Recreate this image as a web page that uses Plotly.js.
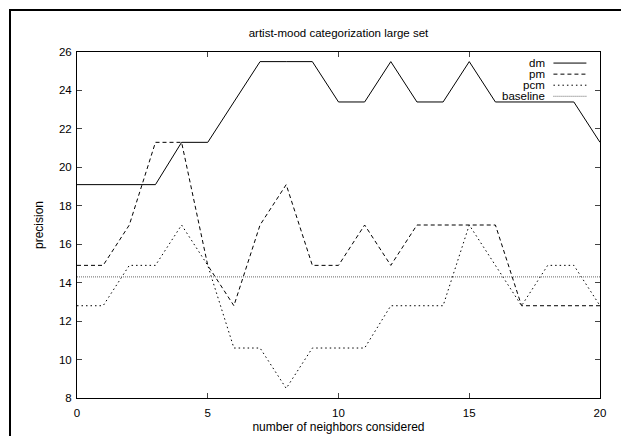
<!DOCTYPE html>
<html><head><meta charset="utf-8">
<script src="https://cdn.plot.ly/plotly-3.0.1.min.js"></script>
<style>
html,body{margin:0;padding:0;background:#fff;overflow:hidden;}
#chart{width:621px;height:436px;}
</style></head>
<body><div id="chart"></div>
<script>
const neighbors = [0,1,2,3,4,5,6,7,8,9,10,11,12,13,14,15,16,17,18,19,20];
const dm  = [19.1,19.1,19.1,19.1,21.3,21.3,23.4,25.5,25.5,25.5,23.4,23.4,25.5,23.4,23.4,25.5,23.4,23.4,23.4,23.4,21.3];
const pm  = [14.9,14.9,17.0,21.3,21.3,14.9,12.8,17.0,19.1,14.9,14.9,17.0,14.9,17.0,17.0,17.0,17.0,12.8,12.8,12.8,12.8];
const pcm = [12.8,12.8,14.9,14.9,17.0,14.9,10.6,10.6,8.5,10.6,10.6,10.6,12.8,12.8,12.8,17.0,14.9,12.8,14.9,14.9,12.8];
const baselineValue = 14.3;
const baseline = neighbors.map(() => baselineValue);
const seriesNames = ['dm','pm','pcm','baseline'];
const xTicks = [0,5,10,15,20];
const yTicks = [8,10,12,14,16,18,20,22,24,26];

const styles = [
  {color:'#000', dash:'solid', width:1},
  {color:'#000', dash:'4px,3px', width:1},
  {color:'#000', dash:'1.5px,3px', width:1},
  {color:'#666', dash:'1px,1px', width:1}
];
const seriesData = [dm, pm, pcm, baseline];
const traces = seriesData.map((ys,i)=>({
  x: neighbors, y: ys, type:'scatter', mode:'lines', name: seriesNames[i],
  line: styles[i], showlegend:false, hoverinfo:'skip'
}));

// plot area in pixels: left 77, right 600, top 52, bottom 398
const W = 621, H = 436, mL = 77, mR = 21, mT = 52, mB = 38;
const pw = W - mL - mR, ph = H - mT - mB;
const px = p => (p - mL) / pw;          // pixel -> paper x
const py = p => (H - mB - p) / ph;      // pixel -> paper y

const fam = 'Liberation Sans, Arial, sans-serif';
const font = {family:fam, size:11.5, color:'#000'};
const titleFont = {family:fam, size:12, color:'#000'};

// custom legend: text right-aligned, sample line on the right (gnuplot style)
const legendY0 = 0.968, legendStep = 0.032;
const annotations = [], shapes = [];
seriesNames.forEach((n,i)=>{
  const yy = legendY0 - i*legendStep;
  annotations.push({xref:'paper', yref:'paper', x:0.899, y:yy, text:n, showarrow:false,
    xanchor:'right', yanchor:'middle', font:font});
  shapes.push({type:'line', xref:'paper', yref:'paper', x0:0.911, x1:0.974, y0:yy, y1:yy,
    line:{color:styles[i].color, dash:styles[i].dash, width:1}});
});
// outer frame (left and top edges only visible)
shapes.push({type:'line', xref:'paper', yref:'paper', x0:px(10), x1:px(10), y0:py(9), y1:py(440), line:{color:'#000', width:2}});
shapes.push({type:'line', xref:'paper', yref:'paper', x0:px(9), x1:px(630), y0:py(10), y1:py(10), line:{color:'#000', width:2}});

const layout = {
  width:W, height:H,
  margin:{l:mL, r:mR, t:mT, b:mB},
  paper_bgcolor:'#fff', plot_bgcolor:'#fff',
  font: font,
  title:{text:'artist-mood categorization large set', xref:'paper', x:0.5, xanchor:'center', y:0.925, yanchor:'middle', font:font},
  xaxis:{range:[0,20], tickvals:xTicks, ticktext:xTicks.map(String), ticks:'inside', ticklen:5,
    ticklabelstandoff:4,
    showline:true, linecolor:'#000', linewidth:1, mirror:'ticks', showgrid:false, zeroline:false,
    title:{text:'number of neighbors considered', standoff:4, font:titleFont}, tickfont:font},
  yaxis:{range:[8,26], tickvals:yTicks, ticktext:yTicks.map(String), ticks:'inside', ticklen:5,
    ticklabelstandoff:2,
    showline:true, linecolor:'#000', linewidth:1, mirror:'ticks', showgrid:false, zeroline:false,
    title:{text:'precision', standoff:12, font:titleFont}, tickfont:font},
  annotations: annotations,
  shapes: shapes
};
Plotly.newPlot('chart', traces, layout, {displayModeBar:false, staticPlot:true});
</script></body></html>
